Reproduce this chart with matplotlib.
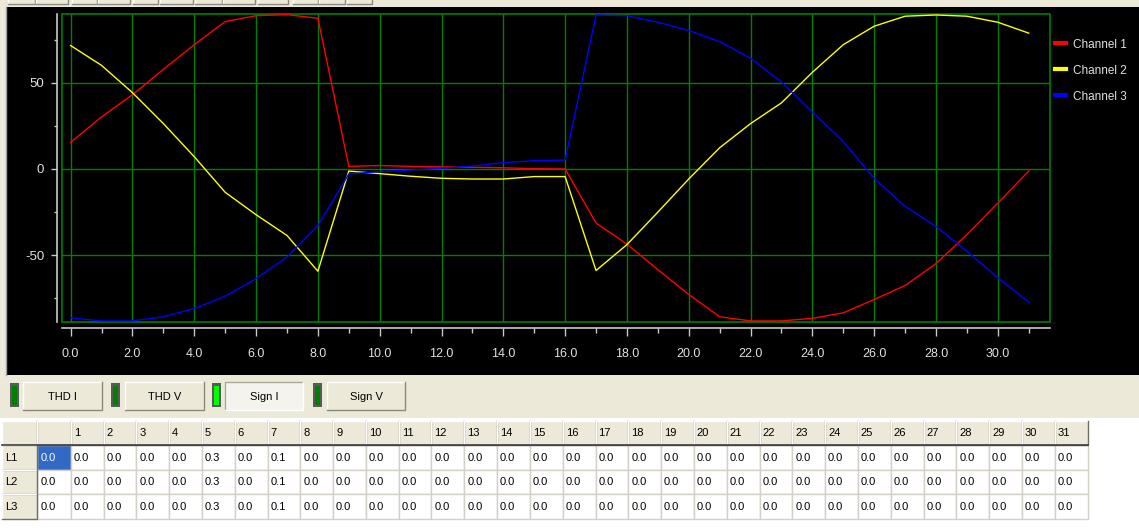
import numpy as np
import matplotlib
matplotlib.use('Agg')
import matplotlib.pyplot as plt
from matplotlib.patches import Rectangle

# Waveform samples (32 points per channel)
x = list(range(32))
ch1 = [15.4, 30.2, 43.0, 57.7, 72.0, 85.4, 88.8, 89.4, 87.3, 1.5, 2.0, 1.5, 1.2, 1.0, 0.7, 0.2,
       0.0, -31.3, -43.5, -58.3, -72.7, -85.6, -88.0, -88.0, -86.5, -83.3, -75.6, -67.5, -54.8, -38.0, -19.8, -1.2]
ch2 = [71.5, 60.0, 44.2, 26.3, 7.1, -13.5, -26.5, -38.5, -59.2, -1.2, -2.7, -4.2, -5.4, -5.8, -5.8, -4.4,
       -4.4, -58.8, -43.8, -25.0, -5.8, 12.3, 26.3, 38.3, 56.0, 72.0, 82.7, 88.5, 89.2, 88.5, 85.0, 78.7]
ch3 = [-86.2, -88.0, -88.0, -85.6, -80.8, -73.7, -63.5, -51.0, -32.7, -2.9, -1.5, -0.6, 0.4, 1.7, 3.7, 4.8,
       5.2, 89.2, 88.8, 85.0, 80.2, 73.8, 64.2, 50.4, 33.0, 15.8, -5.4, -21.7, -33.3, -47.7, -63.0, -77.1]
channel_names = ['Channel 1', 'Channel 2', 'Channel 3']

# Buttons under the chart
button_labels = ['THD I', 'THD V', 'Sign I', 'Sign V']

# Harmonic table (column 0 has no header)
col_headers = [''] + [str(i) for i in range(1, 32)]
row_headers = ['L1', 'L2', 'L3']
l1 = [0.0, 0.0, 0.0, 0.0, 0.0, 0.3, 0.0, 0.1] + [0.0] * 24
l2 = [0.0, 0.0, 0.0, 0.0, 0.0, 0.3, 0.0, 0.1] + [0.0] * 24
l3 = [0.0, 0.0, 0.0, 0.0, 0.0, 0.3, 0.0, 0.1] + [0.0] * 24

W, H = 1139, 528
FONT = ['Liberation Sans', 'DejaVu Sans']
XP_GREY = '#ECE9D8'
plt.rcParams['axes.unicode_minus'] = False
plt.rcParams['font.family'] = FONT

fig = plt.figure(figsize=(W / 100, H / 100), dpi=100)

# ---- window chrome, drawn in pixel coordinates ----
ui = fig.add_axes([0, 0, 1, 1])
ui.set_xlim(0, W)
ui.set_ylim(H, 0)
ui.axis('off')

def rect(x0, y0, x1, y1, fc, ec='none', lw=1, z=1):
    ui.add_patch(Rectangle((x0, y0), x1 - x0, y1 - y0, fc=fc, ec=ec, lw=lw, zorder=z))

def bevel(x0, y0, x1, y1, fc, light='white', dark='#8C8A7E', z=2):
    rect(x0, y0, x1, y1, fc, z=z)
    ui.plot([x0, x0, x1], [y1, y0, y0], color=light, lw=1, zorder=z + 0.1)
    ui.plot([x0, x1, x1], [y1, y1, y0], color=dark, lw=1, zorder=z + 0.1)

rect(0, 0, W, 420, XP_GREY, z=0)
rect(0, 418, W, H, 'white', z=0)

# toolbar buttons at the very top
for x0, x1 in [(8, 35), (36, 68), (72, 97), (98, 130), (133, 158), (160, 193),
               (195, 222), (223, 255), (258, 288), (293, 318), (319, 345), (347, 372)]:
    bevel(x0, -4, x1, 4, XP_GREY)

# black chart panel
rect(6, 7, W, 375, 'black', z=1)
ui.plot([5.5, 5.5], [7, 375], color='#A0A0A0', lw=1, zorder=1.2)

# LEDs and buttons
led_x = [10, 111, 212, 313]
btn_x = [(23, 102), (125, 204), (225, 303), (327, 405)]
led_col = ['#008000', '#008000', '#00FF00', '#008000']
for lx, (bx0, bx1), lc, lab in zip(led_x, btn_x, led_col, button_labels):
    rect(lx, 383, lx + 9, 407, '#5A5A5A', z=2)
    rect(lx + 2, 386, lx + 7, 405, lc, z=3)
    if lab == 'Sign I':
        bevel(bx0, 382, bx1, 410, '#F4F3EE', light='#ACA899', dark='white')
    else:
        bevel(bx0, 382, bx1, 410, XP_GREY)
    ui.text((bx0 + bx1) / 2, 397, lab, ha='center', va='center', fontsize=8,
            color='black', zorder=5)

# table
col_edges = [2, 37.3] + [70.7 + 32.8 * k for k in range(32)]
row_edges = [420.7, 445, 469.5, 494, 518.5]
bevel(col_edges[0], row_edges[0], col_edges[1], row_edges[1], XP_GREY, dark='#716F64')
for j, lab in enumerate(col_headers):
    c0, c1 = col_edges[j + 1], col_edges[j + 2]
    bevel(c0, row_edges[0], c1, row_edges[1], XP_GREY, dark='#716F64')
    ui.text(c0 + 3, (row_edges[0] + row_edges[1]) / 2 + 0.5, lab, ha='left', va='center',
            fontsize=8, color='black', zorder=5)
ui.plot([col_edges[0], col_edges[-1]], [row_edges[1], row_edges[1]], color='#404040', lw=1.2, zorder=4)

for i, (rname, vals) in enumerate(zip(row_headers, [l1, l2, l3])):
    r0, r1 = row_edges[i + 1], row_edges[i + 2]
    bevel(col_edges[0], r0, col_edges[1], r1, XP_GREY, dark='#716F64')
    ui.text(col_edges[0] + 3, (r0 + r1) / 2 + 0.5, rname, ha='left', va='center',
            fontsize=8, color='black', zorder=5)
    for j, v in enumerate(vals):
        c0, c1 = col_edges[j + 1], col_edges[j + 2]
        sel = (i == 0 and j == 0)
        rect(c0, r0, c1, r1, '#316AC5' if sel else 'white', ec='#D4D0C8', lw=1, z=2)
        ui.text(c0 + 3, (r0 + r1) / 2 + 0.5, f'{v:.1f}', ha='left', va='center', fontsize=8,
                color='white' if sel else 'black', zorder=5)

# ---- the waveform chart ----
L, R, T, B = 61.7, 1049.7, 14.3, 322.3
ax = fig.add_axes([L / W, 1 - B / H, (R - L) / W, (B - T) / H])
ax.set_facecolor('black')
ax.plot(x, ch1, color='#FF0000', lw=1.0, label=channel_names[0], zorder=3)
ax.plot(x, ch2, color='#FFFF00', lw=1.0, label=channel_names[1], zorder=3)
ax.plot(x, ch3, color='#0000FF', lw=1.0, label=channel_names[2], zorder=3)
ax.set_xlim(-0.29, 31.68)
ax.set_ylim(-88.8, 89.6)

ax.set_xticks(np.arange(0, 31, 2))
ax.set_xticklabels([f'{v:.1f}' for v in np.arange(0, 31, 2)])
ax.set_xticks(np.arange(1, 32, 2), minor=True)
ax.set_yticks([-50, 0, 50])
ax.set_yticks([-75, -25, 25, 75], minor=True)
ax.grid(which='major', color='#008000', lw=1.0, zorder=1)
ax.set_axisbelow(True)

for s in ['top', 'right']:
    ax.spines[s].set_visible(False)
ax.spines['left'].set_position(('outward', 3.6))
ax.spines['bottom'].set_position(('outward', 4.3))
for s in ['left', 'bottom']:
    ax.spines[s].set_color('#C8C8C8')
    ax.spines[s].set_linewidth(1.2)
ax.add_patch(Rectangle((0, 0), 1, 1, transform=ax.transAxes, fill=False,
                       ec='#008000', lw=1.2, clip_on=False, zorder=2))

ax.tick_params(axis='x', which='major', length=6, width=1, color='#C8C8C8', pad=8,
               labelcolor='#E0E0E0', labelsize=9)
ax.tick_params(axis='x', which='minor', length=3.3, width=1, color='#C8C8C8')
ax.tick_params(axis='y', which='major', length=4, width=1, color='#C8C8C8', pad=5,
               labelcolor='#E0E0E0', labelsize=9.5)
ax.tick_params(axis='y', which='minor', length=2, width=1, color='#C8C8C8')

leg = ax.legend(loc='upper left', bbox_to_anchor=(1055 / W, 1 - 38.5 / H),
                bbox_transform=fig.transFigure, frameon=False, borderpad=0,
                borderaxespad=0, handlelength=0.9, handletextpad=0.6,
                labelspacing=1.19, prop={'size': 8.5})
for h in leg.get_lines():
    h.set_linewidth(3)
for t in leg.get_texts():
    t.set_color('#E0E0E0')

fig.savefig('out.png', dpi=100)
